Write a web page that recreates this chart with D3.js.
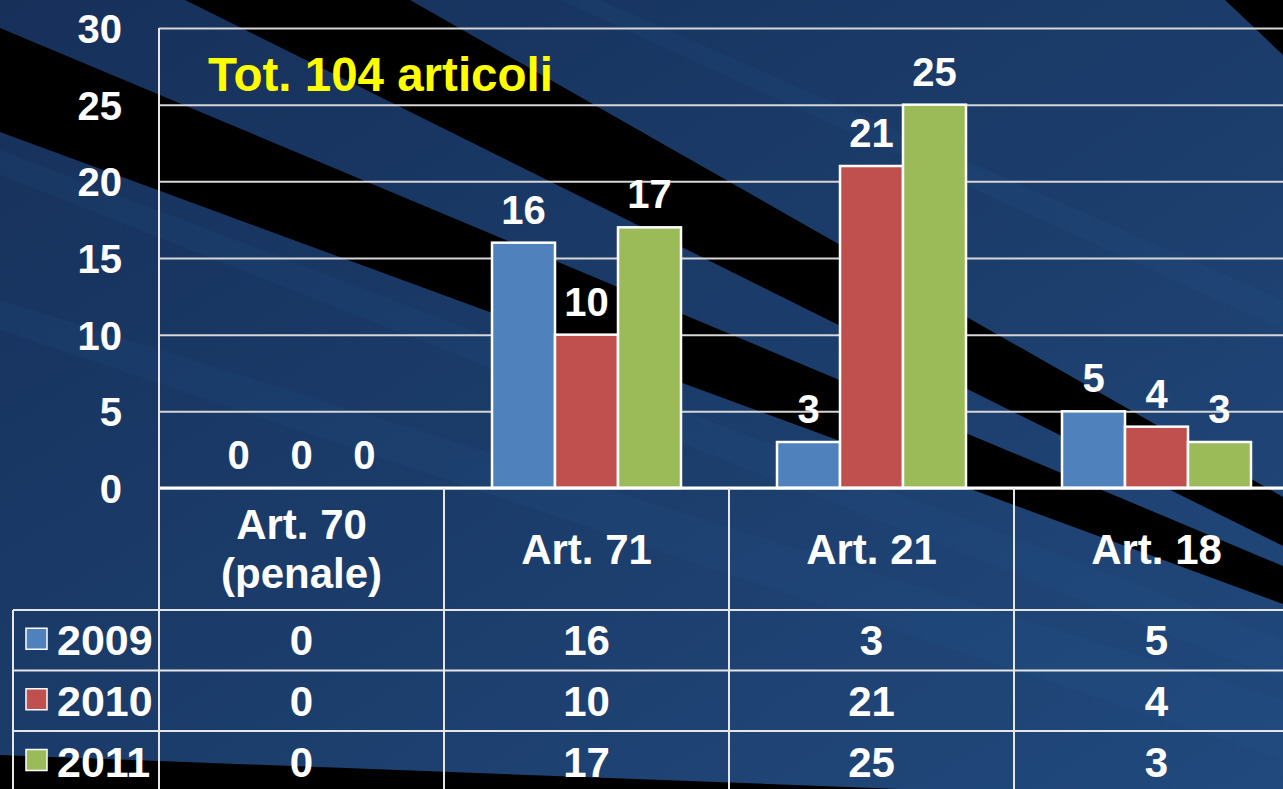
<!DOCTYPE html>
<html>
<head>
<meta charset="utf-8">
<script src="https://cdn.jsdelivr.net/npm/d3@7/dist/d3.min.js"></script>
<style>
  html, body { margin: 0; padding: 0; background: #1a3862; overflow: hidden; }
  svg { display: block; }
  text { font-family: "Liberation Sans", Arial, sans-serif; font-weight: bold; }
</style>
</head>
<body>
<svg id="chart" width="1283" height="789"></svg>
<script>
// ---- data ----
const categories = ["Art. 70 (penale)", "Art. 71", "Art. 21", "Art. 18"];
const categoryLines = [["Art. 70", "(penale)"], ["Art. 71"], ["Art. 21"], ["Art. 18"]];
const series = ["2009", "2010", "2011"];
const values2009 = [0, 16, 3, 5];
const values2010 = [0, 10, 21, 4];
const values2011 = [0, 17, 25, 3];
const yTicks = [0, 5, 10, 15, 20, 25, 30];
const title = "Tot. 104 articoli";

const seriesValues = [values2009, values2010, values2011];
const colors = ["#4f81bd", "#c0504d", "#9bbb59"];

const W = 1283, H = 789;
const plotLeft = 159, plotTop = 28, plotBottom = 488;
const catStep = 285;
const rowYs = [610, 670.5, 731, 792];

const svg = d3.select("#chart");

// ---- background ----
const defs = svg.append("defs");
const grad = defs.append("linearGradient").attr("id", "bg")
  .attr("x1", "0").attr("y1", "0").attr("x2", "1").attr("y2", "1");
grad.append("stop").attr("offset", "0").attr("stop-color", "#16305a");
grad.append("stop").attr("offset", "0.5").attr("stop-color", "#1b3c6a");
grad.append("stop").attr("offset", "1").attr("stop-color", "#21497d");
svg.append("rect").attr("width", W).attr("height", H).attr("fill", "url(#bg)");

const bgLayer = svg.append("g");
const streaks = [
  [[0, 150], [1283, 640], [1283, 680], [0, 175]],
  [[0, 300], [1283, 700], [1283, 760], [0, 330]],
  [[600, 0], [1283, 300], [1283, 330], [560, 0]]
];
streaks.forEach(p => bgLayer.append("polygon")
  .attr("points", p.map(d => d.join(",")).join(" "))
  .attr("fill", "#2a5a94").attr("opacity", 0.13));
const bands = [
  [[410, 0], [1283, 497], [1283, 546], [185, 0]],
  [[0, 28], [1283, 566], [1283, 604], [0, 132]],
  [[1225, 0], [1283, 0], [1283, 55]],
  [[0, 755], [900, 789], [0, 789]]
];
bands.forEach(p => bgLayer.append("polygon")
  .attr("points", p.map(d => d.join(",")).join(" "))
  .attr("fill", "#000"));

// ---- scales ----
const x0 = d3.scaleBand().domain(categories)
  .range([plotLeft, plotLeft + catStep * categories.length]).padding(0);
const x1 = d3.scaleBand().domain(series)
  .range([0, x0.bandwidth()]).paddingInner(0).paddingOuter(0.762);
const y = d3.scaleLinear().domain([0, 30]).range([plotBottom, plotTop]);

// ---- gridlines ----
const grid = svg.append("g").attr("transform", `translate(${plotLeft},0)`)
  .call(d3.axisLeft(y).tickValues(yTicks).tickSize(-(W - plotLeft)).tickFormat(""));
grid.select(".domain").remove();
grid.selectAll("line").attr("stroke", "#d6d6d6").attr("stroke-width", 2);

// ---- y axis labels ----
const yAxis = svg.append("g").attr("transform", `translate(${plotLeft},0)`)
  .call(d3.axisLeft(y).tickValues(yTicks).tickSize(0).tickPadding(37));
yAxis.select(".domain").remove();
yAxis.selectAll("text")
  .attr("fill", "#fff").attr("font-size", 40).attr("font-weight", "bold")
  .attr("font-family", "'Liberation Sans', Arial, sans-serif")
  .attr("dy", "0.36em");

// ---- bars ----
const barData = [];
categories.forEach((c, ci) => series.forEach((s, si) => {
  barData.push({ cat: c, ser: s, si, value: seriesValues[si][ci] });
}));

const bars = svg.append("g");
bars.selectAll("rect").data(barData.filter(d => d.value > 0)).join("rect")
  .attr("x", d => x0(d.cat) + x1(d.ser))
  .attr("y", d => y(d.value))
  .attr("width", x1.bandwidth())
  .attr("height", d => y(0) - y(d.value))
  .attr("fill", d => colors[d.si])
  .attr("stroke", "#fff").attr("stroke-width", 2.5);

// ---- data labels ----
svg.append("g").selectAll("text").data(barData).join("text")
  .attr("x", d => x0(d.cat) + x1(d.ser) + x1.bandwidth() / 2)
  .attr("y", d => y(d.value) - 19)
  .attr("text-anchor", "middle")
  .attr("fill", "#fff").attr("font-size", 40)
  .text(d => d.value);

// ---- title ----
svg.append("text").attr("x", 208).attr("y", 91)
  .attr("fill", "#ffff00").attr("font-size", 47.5)
  .text(title);

// ---- table lines ----
const lines = svg.append("g").attr("stroke", "#e6e6e6").attr("stroke-width", 2);
lines.append("line").attr("x1", plotLeft).attr("x2", W)
  .attr("y1", plotBottom).attr("y2", plotBottom).attr("stroke", "#fff").attr("stroke-width", 3);
lines.append("line").attr("x1", plotLeft).attr("x2", plotLeft)
  .attr("y1", plotTop).attr("y2", H);
categories.slice(1).forEach(c => lines.append("line")
  .attr("x1", x0(c)).attr("x2", x0(c)).attr("y1", plotBottom).attr("y2", H));
lines.append("line").attr("x1", 13).attr("x2", 13).attr("y1", rowYs[0]).attr("y2", H);
rowYs.slice(0, 3).forEach(ry => lines.append("line")
  .attr("x1", 13).attr("x2", W).attr("y1", ry).attr("y2", ry));

// ---- header labels ----
const header = svg.append("g");
categories.forEach((c, ci) => {
  const cx = x0(c) + x0.bandwidth() / 2;
  const ls = categoryLines[ci];
  const baseY = ls.length === 1 ? 564 : 539;
  ls.forEach((t, li) => header.append("text")
    .attr("x", cx).attr("y", baseY + li * 49)
    .attr("text-anchor", "middle").attr("fill", "#fff").attr("font-size", 42)
    .text(t));
});

// ---- table rows ----
const table = svg.append("g");
series.forEach((s, si) => {
  const top = rowYs[si], bot = rowYs[si + 1];
  const base = (top + bot) / 2 + 15;
  table.append("rect").attr("x", 26).attr("y", (top + bot) / 2 - 12)
    .attr("width", 21).attr("height", 21)
    .attr("fill", colors[si]).attr("stroke", "#fff").attr("stroke-width", 1.5);
  table.append("text").attr("x", 57).attr("y", base)
    .attr("fill", "#fff").attr("font-size", 43).text(s);
  categories.forEach((c, ci) => table.append("text")
    .attr("x", x0(c) + x0.bandwidth() / 2).attr("y", base)
    .attr("text-anchor", "middle").attr("fill", "#fff").attr("font-size", 42)
    .text(seriesValues[si][ci]));
});
</script>
</body>
</html>
